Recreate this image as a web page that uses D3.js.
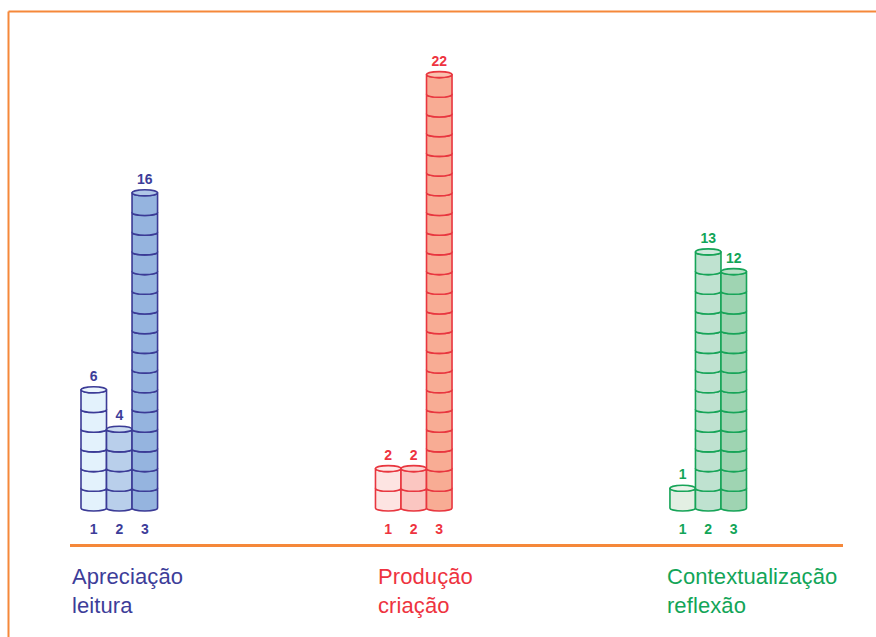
<!DOCTYPE html>
<html>
<head>
<meta charset="utf-8">
<script src="https://cdn.jsdelivr.net/npm/d3@7"></script>
<style>
  html, body { margin: 0; padding: 0; background: #fff; }
  svg { display: block; }
</style>
</head>
<body>
<svg id="chart" width="876" height="637"></svg>
<script>
// Stacked-cylinder bar chart: three activity groups, three bars each.
const groups = ["Apreciação\nleitura", "Produção\ncriação", "Contextualização\nreflexão"];
const seriesLabels = ["1", "2", "3"];
const valuesApreciacao = [6, 4, 16];
const valuesProducao = [2, 2, 22];
const valuesContextualizacao = [1, 13, 12];

const strokeColors = ["#3b3b96", "#e8363f", "#17a458"];
const textColors = ["#3d3d99", "#ee3340", "#12a558"];
const fillColors = [
  ["#e3f2fc", "#b9cfeb", "#95b4df"],
  ["#fde4e2", "#fbc6c1", "#f8ac94"],
  ["#e3efe3", "#bfe2d0", "#9fd4b2"]
];
const frameColor = "#f5883a";

const data = [valuesApreciacao, valuesProducao, valuesContextualizacao];

// layout: horizontal shift of each group caption relative to its bars
const captionShift = [-9, 2.5, -3];

const svg = d3.select("#chart");

// Orange frame (top + left edges)
svg.append("line").attr("x1", 8.5).attr("y1", 11.5).attr("x2", 876).attr("y2", 11.5)
  .attr("stroke", frameColor).attr("stroke-width", 2);
svg.append("line").attr("x1", 8.5).attr("y1", 11.5).attr("x2", 8.5).attr("y2", 637)
  .attr("stroke", frameColor).attr("stroke-width", 2);

// Scales
const y = d3.scaleLinear().domain([0, 22]).range([508, 508 - 22 * 19.7]);
const x = d3.scaleBand().domain(d3.range(groups.length)).range([81, 746.5]).paddingInner(0.74);
const xs = d3.scaleBand().domain(d3.range(seriesLabels.length)).range([0, x.bandwidth()]);

// Baseline axis
svg.append("line").attr("x1", 70).attr("x2", 843).attr("y1", 545.5).attr("y2", 545.5)
  .attr("stroke", frameColor).attr("stroke-width", 3);

const ry = 3;
const font = "Liberation Sans, Arial, sans-serif";

data.forEach((vals, g) => {
  const grp = svg.append("g").attr("transform", `translate(${x(g)},0)`);
  vals.forEach((v, s) => {
    const x0 = xs(s), x1 = xs(s) + xs.bandwidth();
    const rx = xs.bandwidth() / 2;
    const fill = fillColors[g][s];
    const stroke = strokeColors[g];
    const bar = grp.append("g");
    // one cylinder segment per unit, drawn bottom-up
    d3.range(v).forEach(i => {
      const yb = y(i), yt = y(i + 1);
      const path = `M${x0},${yt} L${x0},${yb} A${rx},${ry} 0 0 0 ${x1},${yb} L${x1},${yt} A${rx},${ry} 0 0 1 ${x0},${yt} Z`;
      bar.append("path").attr("d", path)
        .attr("fill", fill).attr("stroke", stroke).attr("stroke-width", 1.6)
        .attr("stroke-linejoin", "round");
    });
    // top cap
    bar.append("ellipse")
      .attr("cx", (x0 + x1) / 2).attr("cy", y(v))
      .attr("rx", rx).attr("ry", ry)
      .attr("fill", d3.interpolateRgb(fill, "#ffffff")(0.25))
      .attr("stroke", stroke).attr("stroke-width", 1.6);
    // value label
    grp.append("text")
      .attr("x", (x0 + x1) / 2).attr("y", y(v) - 9)
      .attr("text-anchor", "middle")
      .attr("font-family", font)
      .attr("font-weight", "bold").attr("font-size", 14)
      .attr("fill", textColors[g])
      .text(v);
    // series label
    grp.append("text")
      .attr("x", (x0 + x1) / 2).attr("y", 534)
      .attr("text-anchor", "middle")
      .attr("font-family", font)
      .attr("font-weight", "bold").attr("font-size", 14)
      .attr("fill", textColors[g])
      .text(seriesLabels[s]);
  });
  // group caption (two lines)
  const cx = x(g) + captionShift[g];
  const t = svg.append("text")
    .attr("x", cx).attr("y", 583.5)
    .attr("font-family", font)
    .attr("font-size", 22)
    .attr("letter-spacing", 0.1)
    .attr("fill", textColors[g]);
  groups[g].split("\n").forEach((line, i) => {
    t.append("tspan").attr("x", cx).attr("dy", i === 0 ? 0 : 29.5).text(line);
  });
});
</script>
</body>
</html>
